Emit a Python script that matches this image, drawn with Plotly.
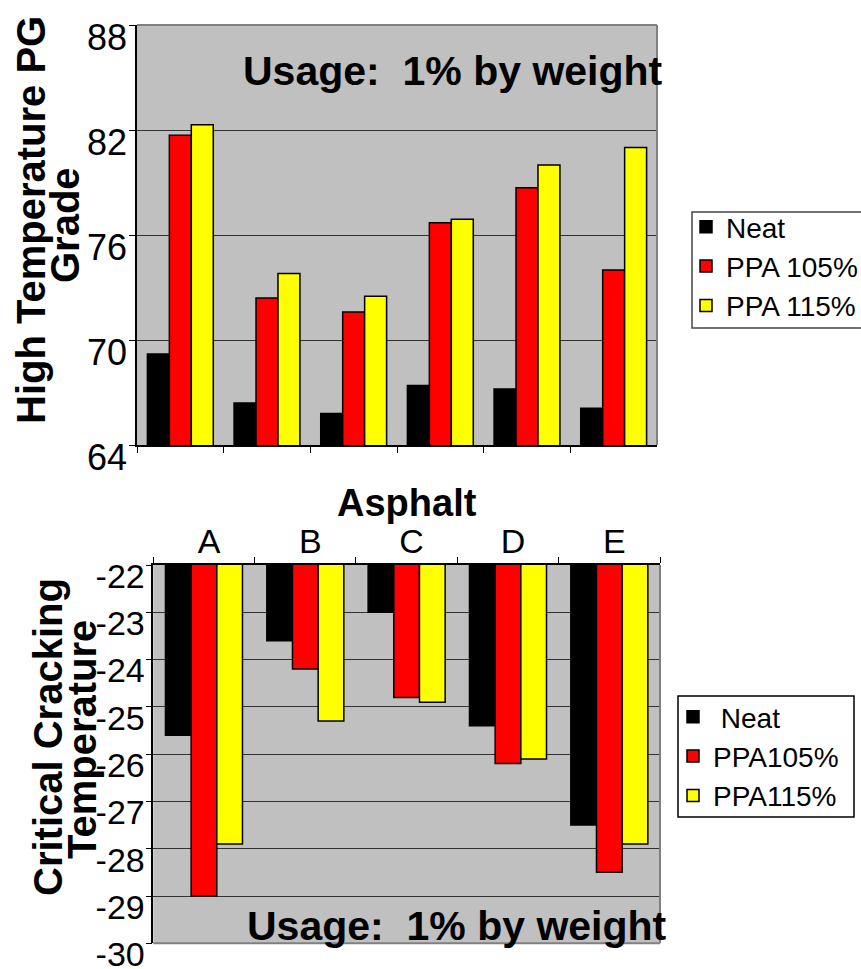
import plotly.graph_objects as go

# --- High temperature PG grade (upper panel) ---
top_groups = ["1", "2", "3", "4", "5", "6"]
top_neat = [69.2, 66.4, 65.8, 67.4, 67.2, 66.1]
top_ppa105 = [81.7, 72.4, 71.6, 76.7, 78.7, 74.0]
top_ppa115 = [82.3, 73.8, 72.5, 76.9, 80.0, 81.0]
top_ticks = [64, 70, 76, 82, 88]

# --- Critical cracking temperature (lower panel) ---
asphalts = ["A", "B", "C", "D", "E"]
ct_neat = [-25.6, -23.6, -23.0, -25.4, -27.5]
ct_ppa105 = [-29.0, -24.2, -24.8, -26.2, -28.5]
ct_ppa115 = [-27.9, -25.3, -24.9, -26.1, -27.9]
ct_ticks = [-22, -23, -24, -25, -26, -27, -28, -29, -30]

FONT = "Liberation Sans"
W, H = 861, 969
BLACK, RED, YELLOW = "#000000", "#FF0000", "#FFFF00"
PLOT_BG = "#C0C0C0"
FRAME = "#808080"


def px_x(p):
    return p / W


def px_y(p):
    return (H - p) / H


fig = go.Figure()

top_series = [("Neat", top_neat, BLACK), ("PPA 105%", top_ppa105, RED),
              ("PPA 115%", top_ppa115, YELLOW)]
for name, vals, col in top_series:
    fig.add_trace(go.Bar(
        x=top_groups, y=vals, name=name, xaxis="x", yaxis="y",
        marker=dict(color=col, line=dict(color=BLACK, width=1.5)),
        legend="legend",
    ))

bot_series = [("\u00a0Neat", ct_neat, BLACK), ("PPA105%", ct_ppa105, RED),
              ("PPA115%", ct_ppa115, YELLOW)]
for name, vals, col in bot_series:
    fig.add_trace(go.Bar(
        x=asphalts, y=vals, name=name, xaxis="x2", yaxis="y2",
        marker=dict(color=col, line=dict(color=BLACK, width=1.5)),
        legend="legend2",
    ))

axis_common = dict(showline=True, linecolor=BLACK, linewidth=1.5,
                   ticks="outside", ticklen=6, tickcolor=BLACK, tickwidth=1.2,
                   automargin=False)

legend_common = dict(xanchor="left", yanchor="top", bgcolor="rgba(0,0,0,0)",
                     borderwidth=0, font=dict(size=28), tracegroupgap=0)

fig.update_layout(
    width=W, height=H,
    margin=dict(l=0, r=0, t=0, b=0, autoexpand=False),
    paper_bgcolor="white", plot_bgcolor=PLOT_BG,
    font=dict(family=FONT, color=BLACK),
    barmode="group", bargap=0.24, bargroupgap=0,
    xaxis=dict(domain=[px_x(137), px_x(657)], anchor="y",
               tickson="boundaries", showticklabels=False,
               showgrid=False, **axis_common),
    yaxis=dict(domain=[px_y(445), px_y(25)], anchor="x",
               range=[64, 88], tickvals=top_ticks,
               ticktext=[str(v) for v in top_ticks],
               tickfont=dict(size=36), ticklabelshift=12,
               ticklabelstandoff=-5, ticklabeloverflow="allow",
               showgrid=True, gridcolor="#333333", gridwidth=1,
               zeroline=False, **axis_common),
    xaxis2=dict(domain=[px_x(153.3), px_x(660)], anchor="y2", side="top",
                tickson="boundaries", tickfont=dict(size=34),
                ticklabelshift=5, ticklabelstandoff=-3,
                showgrid=False, **axis_common),
    yaxis2=dict(domain=[px_y(943.3), px_y(565)], anchor="x2",
                range=[-30, -22], tickvals=ct_ticks,
                ticktext=["-%d" % abs(v) for v in ct_ticks],
                tickfont=dict(size=34), ticklabelshift=11,
                ticklabelstandoff=-6, ticklabeloverflow="allow",
                showgrid=True, gridcolor="#333333", gridwidth=1,
                zeroline=False, **axis_common),
    legend=dict(x=px_x(686), y=px_y(202), **legend_common),
    legend2=dict(x=px_x(673), y=px_y(692), **legend_common),
)

# grey frame on the open sides of each plot area
frame_lines = [
    ("x", "y", 0, 1, 1, 1), ("x", "y", 1, 0, 1, 1),
    ("x2", "y2", 1, 0, 1, 1), ("x2", "y2", 0, 0, 1, 0),
]
for xa, ya, x0, y0, x1, y1 in frame_lines:
    fig.add_shape(type="line", xref=f"{xa} domain", yref=f"{ya} domain",
                  x0=x0, y0=y0, x1=x1, y1=y1,
                  line=dict(color=FRAME, width=2))

# legend boxes
legend_boxes = [((692, 212, 875, 328), "#444444"), ((678, 696, 854, 817), BLACK)]
for (bx0, by0, bx1, by1), bcol in legend_boxes:
    fig.add_shape(type="rect", xref="paper", yref="paper",
                  x0=px_x(bx0), x1=px_x(bx1), y0=px_y(by1), y1=px_y(by0),
                  fillcolor="white", line=dict(color=bcol, width=1.5),
                  layer="above")

annots = [
    ("<b>Usage:\u00a0 1% by weight</b>", 453, 71, 0, 41),
    ("<b>Usage:\u00a0 1% by weight</b>", 457, 926, 0, 41),
    ("<b>Asphalt</b>", 407, 503, 0, 38),
    ("<b>High Temperature PG</b>", 31, 220, -90, 40),
    ("<b>Grade</b>", 65, 225, -90, 40),
    ("<b>Critical Cracking</b>", 48, 737, -90, 40),
    ("<b>Temperature</b>", 82, 740, -90, 40),
]
for text, ax, ay, ang, size in annots:
    fig.add_annotation(text=text, xref="paper", yref="paper",
                       x=px_x(ax), y=px_y(ay), xanchor="center", yanchor="middle",
                       textangle=ang, showarrow=False,
                       font=dict(size=size, family=FONT, color=BLACK))

fig.write_html("out.html")
